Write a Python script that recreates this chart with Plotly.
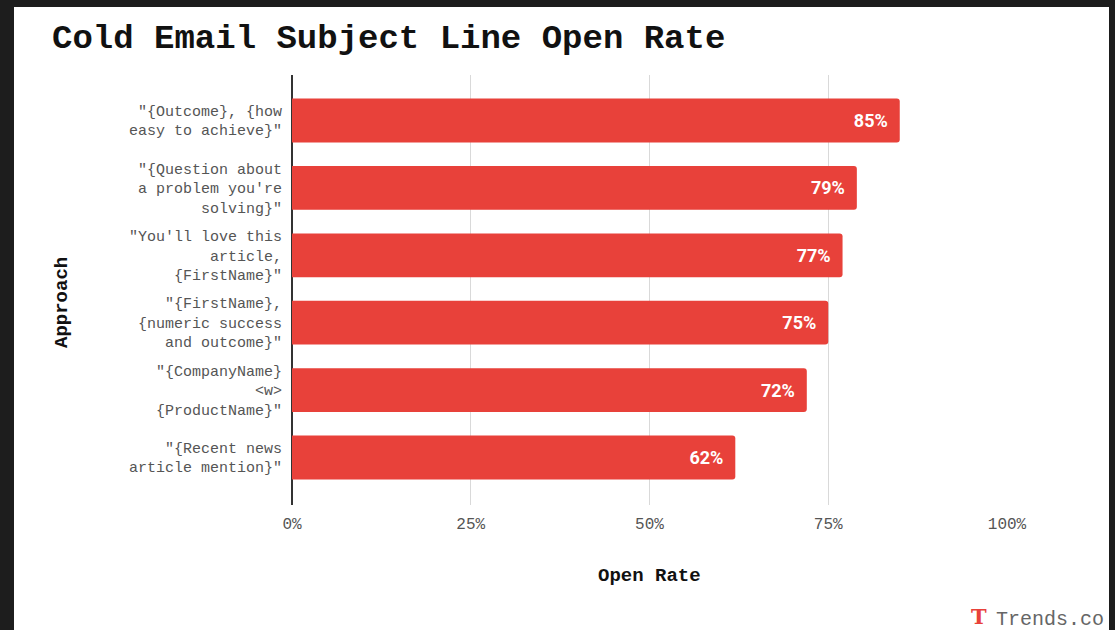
import plotly.graph_objects as go

title_text = "Cold Email Subject Line Open Rate"
approaches = [
    '"{Outcome}, {how<br>easy to achieve}"',
    '"{Question about<br>a problem you\'re<br>solving}"',
    '"You\'ll love this<br>article,<br>{FirstName}"',
    '"{FirstName},<br>{numeric success<br>and outcome}"',
    '"{CompanyName}<br>&lt;w&gt;<br>{ProductName}"',
    '"{Recent news<br>article mention}"',
]
open_rates = [85, 79, 77, 75, 72, 62]
x_tick_vals = [0, 25, 50, 75, 100]
x_tick_text = ["0%", "25%", "50%", "75%", "100%"]

W, H = 1115, 630
L, R, T, B = 292, 108, 75, 125
pw, ph = W - L - R, H - T - B

def px(x):
    return (x - L) / pw

def py(y):
    return (H - B - y) / ph

mono = "Liberation Mono, Courier New, monospace"

fig = go.Figure()
fig.add_trace(go.Bar(
    x=open_rates,
    y=approaches,
    orientation="h",
    marker=dict(color="#E8413A", cornerradius=3, line=dict(width=0)),
    text=[f"{v}%\u00a0\u00a0" for v in open_rates],
    textposition="inside",
    insidetextanchor="end",
    textangle=0,
    constraintext="none",
    insidetextfont=dict(family="Roboto, Arial, sans-serif", size=18, color="white", weight="bold"),
    hoverinfo="skip",
))

fig.update_layout(
    width=W, height=H,
    margin=dict(l=L, r=R, t=T, b=B, autoexpand=False),
    paper_bgcolor="#1d1d1d",
    plot_bgcolor="white",
    bargap=0.35,
    showlegend=False,
    xaxis=dict(
        range=[0, 100],
        tickvals=x_tick_vals,
        ticktext=x_tick_text,
        showgrid=True,
        gridcolor="#d9d9d9",
        gridwidth=1,
        zeroline=True,
        zerolinecolor="#333333",
        zerolinewidth=2,
        showline=False,
        ticks="",
        tickfont=dict(family=mono, size=16, color="#555555"),
        ticklabelstandoff=7,
        fixedrange=True,
    ),
    yaxis=dict(
        categoryorder="array",
        categoryarray=approaches,
        range=[5.705, -0.675],
        showgrid=False,
        zeroline=False,
        showline=False,
        ticks="",
        tickfont=dict(family=mono, size=15, color="#555555"),
        ticklabelstandoff=9,
        fixedrange=True,
    ),
    shapes=[
        dict(type="rect", xref="paper", yref="paper", layer="below",
             x0=px(14), x1=px(1109), y0=py(631), y1=py(7),
             fillcolor="white", line=dict(width=0)),
    ],
    annotations=[
        dict(text=f"<b>{title_text}</b>", xref="paper", yref="paper",
             x=px(50), y=py(39), xanchor="left", yanchor="middle", showarrow=False,
             font=dict(family=mono, size=34, color="#111111")),
        dict(text="<b>Open Rate</b>", xref="paper", yref="paper",
             x=px(649), y=py(576), xanchor="center", yanchor="middle", showarrow=False,
             font=dict(family=mono, size=19, color="#111111")),
        dict(text="<b>Approach</b>", xref="paper", yref="paper", textangle=-90,
             x=px(62), y=py(303), xanchor="center", yanchor="middle", showarrow=False,
             font=dict(family=mono, size=19, color="#111111")),
        dict(text="<b>T</b>", xref="paper", yref="paper",
             x=px(979), y=py(616), xanchor="center", yanchor="middle", showarrow=False,
             font=dict(family="DejaVu Serif, serif", size=21, color="#E8413A")),
        dict(text="Trends.co", xref="paper", yref="paper",
             x=px(994), y=py(619), xanchor="left", yanchor="middle", showarrow=False,
             font=dict(family=mono, size=20, color="#666666")),
    ],
)

fig.write_html("out.html")
